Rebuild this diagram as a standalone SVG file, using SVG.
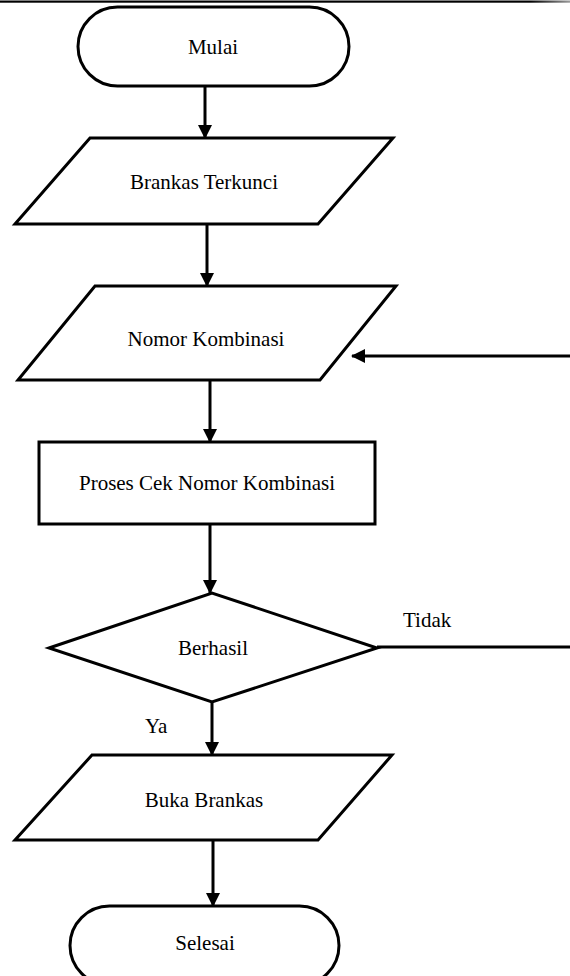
<svg xmlns="http://www.w3.org/2000/svg" width="570" height="976" viewBox="0 0 570 976">
  <style>
    .shape { fill: #ffffff; stroke: #000000; stroke-width: 3; stroke-linejoin: miter; }
    .conn { fill: none; stroke: #000000; stroke-width: 3; }
    .label { font-family: "Liberation Serif", "Times New Roman", serif; font-size: 21px; fill: #000000; text-anchor: middle; }
    .side { font-family: "Liberation Serif", "Times New Roman", serif; font-size: 21px; fill: #000000; }
  </style>
  <defs>
    <marker id="arrow" markerWidth="14" markerHeight="14" refX="13" refY="7" orient="auto" markerUnits="userSpaceOnUse">
      <path d="M0,0 L14,7 L0,14 z" fill="#000000"/>
    </marker>
    <linearGradient id="topfade" x1="0" y1="0" x2="1" y2="0">
      <stop offset="0" stop-color="#000000"/>
      <stop offset="0.93" stop-color="#000000"/>
      <stop offset="1" stop-color="#9a9a9a"/>
    </linearGradient>
  </defs>
  <rect x="0" y="0.5" width="570" height="2.2" fill="url(#topfade)"/>

  <g id="connectors">
    <line class="conn" x1="205" y1="86" x2="205" y2="138" marker-end="url(#arrow)"/>
    <line class="conn" x1="207" y1="225" x2="207" y2="286" marker-end="url(#arrow)"/>
    <line class="conn" x1="210" y1="380" x2="210" y2="442" marker-end="url(#arrow)"/>
    <line class="conn" x1="210" y1="524" x2="210" y2="593" marker-end="url(#arrow)"/>
    <line class="conn" x1="212" y1="702" x2="212" y2="755" marker-end="url(#arrow)"/>
    <line class="conn" x1="213" y1="840" x2="213" y2="906" marker-end="url(#arrow)"/>
    <path class="conn" d="M377,647 H580 V356 H352" marker-end="url(#arrow)"/>
  </g>

  <g id="mulai">
    <rect class="shape" x="78" y="7" width="271" height="79" rx="39.5" ry="39.5"/>
    <text class="label" x="213" y="54">Mulai</text>
  </g>

  <g id="brankas-terkunci">
    <polygon class="shape" points="90,138 393,138 318,224 15,224"/>
    <text class="label" x="204" y="189">Brankas Terkunci</text>
  </g>

  <g id="nomor-kombinasi">
    <polygon class="shape" points="95,286 396,286 320,380 18,380"/>
    <text class="label" x="206" y="346">Nomor Kombinasi</text>
  </g>

  <g id="proses-cek">
    <rect class="shape" x="39" y="442" width="336" height="82"/>
    <text class="label" x="207" y="490">Proses Cek Nomor Kombinasi</text>
  </g>

  <g id="berhasil">
    <polygon class="shape" points="49,648 212,593 377,648 212,702"/>
    <text class="label" x="213" y="655">Berhasil</text>
  </g>

  <g id="labels">
    <text class="side" x="403" y="627">Tidak</text>
    <text class="side" x="145" y="733">Ya</text>
  </g>

  <g id="buka-brankas">
    <polygon class="shape" points="92,755 392,755 318,840 15,840"/>
    <text class="label" x="204" y="807">Buka Brankas</text>
  </g>

  <g id="selesai">
    <rect class="shape" x="70" y="906" width="269" height="79" rx="39.5" ry="39.5"/>
    <text class="label" x="205" y="950">Selesai</text>
  </g>
</svg>
